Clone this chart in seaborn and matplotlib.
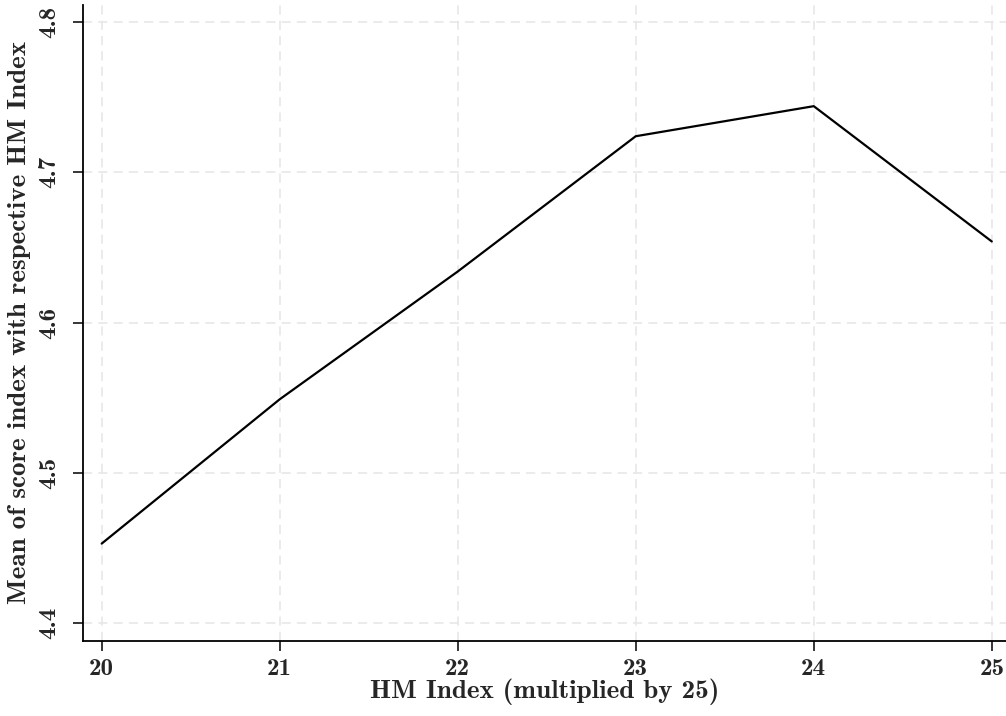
import matplotlib
matplotlib.use("Agg")
import matplotlib.pyplot as plt
import pandas as pd
import seaborn as sns

# HM index (multiplied by 25) and mean score index per value
hm_index = [20, 21, 22, 23, 24, 25]
mean_score = [4.453, 4.549, 4.634, 4.724, 4.744, 4.654]
y_ticks = [4.4, 4.5, 4.6, 4.7, 4.8]
y_tick_labels = ["4.4", "4.5", "4.6", "4.7", "4.8"]

df = pd.DataFrame({"hm": hm_index, "score": mean_score})

sns.set_style("white")
plt.rcParams["font.family"] = ["cmb10", "DejaVu Serif"]
plt.rcParams["axes.unicode_minus"] = False

fig = plt.figure(figsize=(10.06, 7.16), dpi=100)
ax = fig.add_axes([83 / 1006, (716 - 640.7) / 716, (1006 - 83) / 1006, (640.7 - 5) / 716])

sns.lineplot(data=df, x="hm", y="score", ax=ax, color="black", linewidth=1.6)

ax.set_xlim(19.895, 25.08)
ax.set_ylim(4.3884, 4.8113)
ax.set_xticks(hm_index)
ax.set_yticks(y_ticks)
ax.set_yticklabels(y_tick_labels, rotation=90, va="center")

ax.grid(True, color="#e6e6e6", linestyle=(0, (6, 4)), linewidth=1.1)
for side in ["top", "right"]:
    ax.spines[side].set_visible(False)
for side in ["left", "bottom"]:
    ax.spines[side].set_color("black")
    ax.spines[side].set_linewidth(1.3)

ax.tick_params(axis="both", direction="out", length=7.5, width=1.1, color="black",
               labelsize=18, bottom=True, left=True)
ax.tick_params(axis="y", pad=9)
ax.tick_params(axis="x", pad=5)

ax.set_xlabel("HM Index (multiplied by 25)", fontsize=19.5, labelpad=-1)
ax.set_ylabel("Mean of score index with respective HM Index", fontsize=19.5, labelpad=5)

fig.savefig("out.png", dpi=100)
